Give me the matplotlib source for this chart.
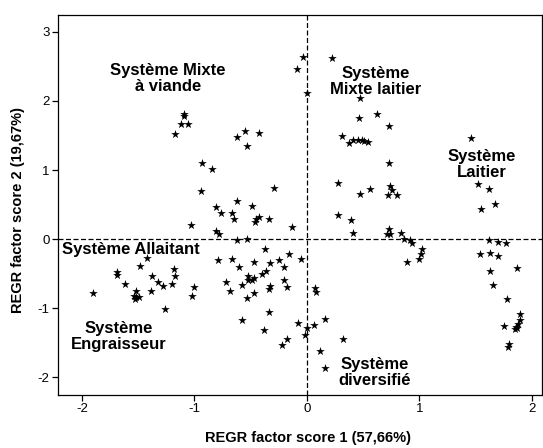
import matplotlib
matplotlib.use("Agg")
import matplotlib.pyplot as plt

plt.rcParams['font.family'] = ['Liberation Sans', 'DejaVu Sans']
plt.rcParams['axes.unicode_minus'] = False

score1 = [
    -0.036, -0.086, 0.003, -1.09, -1.09, -1.12, -1.06, -1.17, -0.625, -0.55,
    -0.43, -0.53, -0.93, -0.84, -0.94, -0.29, -0.62, -0.81, -0.49, -0.76,
    -0.67, -0.65, -0.43, -0.45, -0.46, -0.34, -1.03, -0.13, -0.81, -0.78,
    -0.62, -0.53, -0.37, -1.42, -0.79, -0.67, -0.47, -0.16, -0.05, -0.25,
    -0.33, -0.60, -1.48, -0.20, -0.36, -1.69, -1.69, -1.18, -1.17, -1.38,
    -0.40, -0.52, -0.52, -0.49, -0.47, -1.32, -1.62, -1.28, -1.20, -0.72,
    -0.58, -0.20, -0.18, -0.33, -0.34, -1.00, -0.68, -1.52, -1.90, -1.39,
    -0.47, -1.02, -1.54, -1.52, -1.49, -1.53, -0.53, -1.26, -0.34, -0.58,
    -0.38, -0.08, -0.02, -0.18, -0.22,
    0.28, 0.39, 0.41, 0.73, 0.74, 0.71, 0.84, 0.86, 0.92, 0.93,
    1.02, 1.01, 1.00, 0.89, 0.07, 0.08, 0.16, 0.06, 0.00, 0.32,
    0.12, 0.16,
    1.55, 1.67, 1.62, 1.70, 1.77, 1.54, 1.63, 1.70, 1.87, 1.63,
    1.65, 1.78, 1.89, 1.89, 1.88, 1.86, 1.85, 1.87, 1.75, 1.80, 1.79,
    0.22, 0.47, 0.46, 0.62, 0.73, 0.31, 0.37, 0.41, 0.45, 0.49,
    0.51, 0.54, 0.73, 0.28, 0.47, 0.56, 0.74, 0.76, 0.72, 0.80,
    1.46, 1.52, 1.62,
]
score2 = [
    2.64, 2.47, 2.12, 1.81, 1.78, 1.67, 1.67, 1.52, 1.48, 1.57,
    1.53, 1.35, 1.10, 1.02, 0.69, 0.74, 0.55, 0.46, 0.48, 0.38,
    0.38, 0.29, 0.32, 0.29, 0.24, 0.29, 0.21, 0.17, 0.12, 0.08,
    -0.01, 0.00, -0.14, -0.28, -0.31, -0.29, -0.33, -0.22, -0.29, -0.30,
    -0.35, -0.40, -0.39, -0.41, -0.46, -0.48, -0.52, -0.44, -0.54, -0.54,
    -0.51, -0.53, -0.59, -0.59, -0.57, -0.62, -0.65, -0.68, -0.65, -0.62,
    -0.67, -0.59, -0.70, -0.68, -0.73, -0.69, -0.75, -0.75, -0.78, -0.76,
    -0.78, -0.83, -0.83, -0.84, -0.84, -0.87, -0.85, -1.02, -1.06, -1.17,
    -1.32, -1.22, -1.39, -1.45, -1.54,
    0.35, 0.27, 0.09, 0.14, 0.08, 0.08, 0.09, 0.00, -0.01, -0.06,
    -0.15, -0.21, -0.29, -0.33, -0.71, -0.77, -1.16, -1.25, -1.29, -1.45,
    -1.62, -1.87,
    0.44, 0.51, -0.02, -0.04, -0.06, -0.21, -0.20, -0.24, -0.42, -0.47,
    -0.67, -0.87, -1.08, -1.17, -1.23, -1.28, -1.31, -1.29, -1.26, -1.52, -1.57,
    2.63, 2.05, 1.75, 1.81, 1.64, 1.49, 1.39, 1.43, 1.43, 1.43,
    1.42, 1.41, 1.10, 0.81, 0.65, 0.72, 0.77, 0.71, 0.64, 0.64,
    1.46, 0.80, 0.72,
]

group_labels = ["Système Mixte\nà viande", "Système\nMixte laitier", "Système\nLaitier",
                "Système Allaitant", "Système\nEngraisseur", "Système\ndiversifié"]
label_x = [-1.236, 0.613, 1.556, -2.18, -1.676, 0.60]
label_y = [2.33, 2.285, 1.08, -0.15, -1.41, -1.93]
label_ha = ["center", "center", "center", "left", "center", "center"]

xticks = [-2, -1, 0, 1, 2]
yticks = [-2, -1, 0, 1, 2, 3]

fig = plt.figure(figsize=(5.43, 4.48), dpi=100)
ax = fig.add_axes([58/543, 1-395/448, 484/543, 380/448])

ax.scatter(score1, score2, marker='*', s=42, color='black', linewidths=0, zorder=3)
ax.axvline(0, color='black', linestyle=(0, (4, 2)), linewidth=0.9, zorder=2)
ax.axhline(0, color='black', linestyle=(0, (4, 2)), linewidth=0.9, zorder=2)

for t, x, y, ha in zip(group_labels, label_x, label_y, label_ha):
    ax.text(x, y, t, ha=ha, va='center', fontsize=12, fontweight='bold',
            linespacing=1.05, zorder=4)

ax.set_xlim(-2.213, 2.089)
ax.set_ylim(-2.26, 3.246)
ax.set_xticks(xticks)
ax.set_yticks(yticks)
ax.tick_params(direction='out', length=4, width=0.9, labelsize=9.5, pad=2)
for sp in ax.spines.values():
    sp.set_linewidth(0.9)

fig.text(308/543, 1-438/448, "REGR factor score 1 (57,66%)", ha='center', va='center',
         fontsize=10.5, fontweight='bold')
fig.text(18/543, 1-210/448, "REGR factor score 2 (19,67%)", ha='center', va='center',
         rotation=90, fontsize=10.5, fontweight='bold')

fig.savefig("out.png", dpi=100)
